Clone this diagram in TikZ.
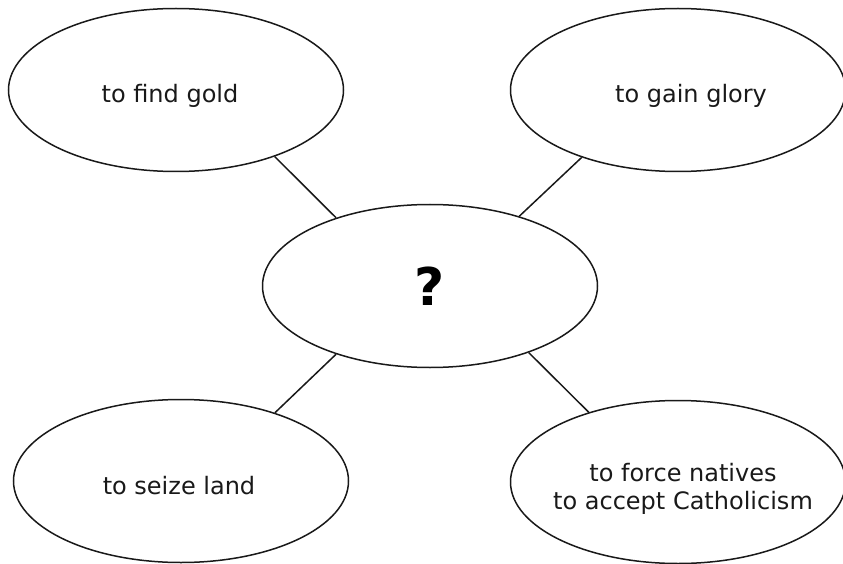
\documentclass[tikz,border=0pt]{standalone}
\usepackage{fontspec}
\setmainfont{DejaVu Sans}
\usetikzlibrary{shapes.geometric,positioning}

\tikzset{
  bubble/.style={draw=black!90,ellipse,line width=1.5pt,minimum width=335pt,minimum height=163pt,inner sep=0pt},
  every label/.style={align=center,font=\fontsize{24}{28}\selectfont,text=black!90},
  spoke/.style={draw=black!90,line width=1.5pt},
}

\begin{document}
\begin{tikzpicture}[x=1pt,y=-1pt]
  \useasboundingbox (0,0) rectangle (843,564);
  \node[bubble,font=\fontsize{52}{56}\selectfont\bfseries] at (430,286)(quest){\raisebox{-3pt}{?}};
  \node[bubble,label={[xshift=-6pt,yshift=-6pt]center:to find gold}] at (176,90)(gold){};
  \node[bubble,label={[xshift=13pt,yshift=-6pt]center:to gain glory}] at (678,90)(glory){};
  \node[bubble,label={[xshift=-2pt,yshift=-5pt]center:to seize land}] at (181,481)(land){};
  \node[bubble,label={[xshift=5pt,yshift=-7pt]center:to force natives\\to accept Catholicism}] at (678,482)(faith){};
  \draw[spoke] (gold.-34) -- (quest.144);
  \draw[spoke] (glory.-145) -- (quest.38);
  \draw[spoke] (land.36) -- (quest.-144);
  \draw[spoke] (faith.142) -- (quest.-34);
\end{tikzpicture}
\end{document}
